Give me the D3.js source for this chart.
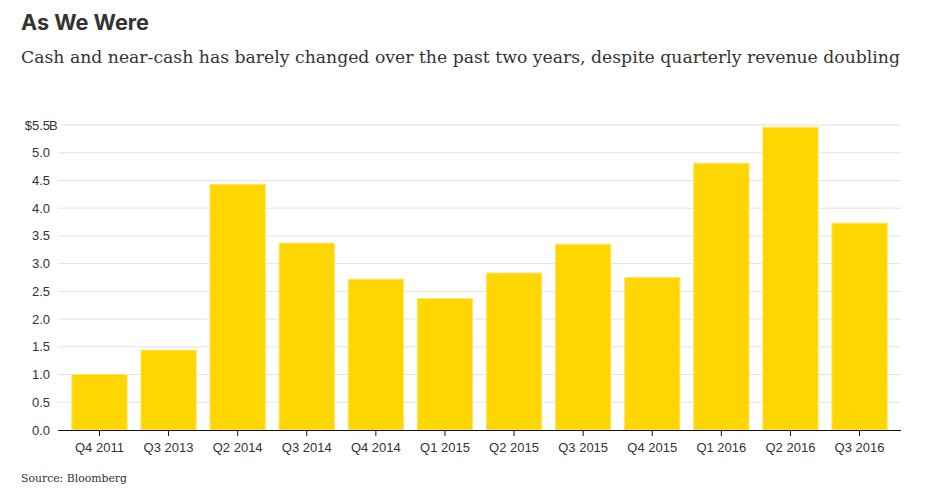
<!DOCTYPE html>
<html><head><meta charset="utf-8">
<script src="https://cdn.jsdelivr.net/npm/d3@7/dist/d3.min.js"></script>
<style>body{margin:0;background:#fff}svg{display:block}</style>
</head><body>
<svg id="c" width="935" height="492"></svg>
<script>
const categories = ["Q4 2011","Q3 2013","Q2 2014","Q3 2014","Q4 2014","Q1 2015","Q2 2015","Q3 2015","Q4 2015","Q1 2016","Q2 2016","Q3 2016"];
const cash = [1.00,1.44,4.43,3.37,2.72,2.37,2.83,3.35,2.75,4.81,5.46,3.73];
const yTicks = [0,0.5,1,1.5,2,2.5,3,3.5,4,4.5,5,5.5];
const title = "As We Were";
const subtitle = "Cash and near-cash has barely changed over the past two years, despite quarterly revenue doubling";
const source = "Source: Bloomberg";

const svg = d3.select("#c");
const x = d3.scaleBand().domain(categories).range([58, 901]).paddingInner(0.2).paddingOuter(0.2);
const y = d3.scaleLinear().domain([0, 5.5]).range([430, 125]);

function fit(sel, w){ const l = sel.node().getComputedTextLength(); sel.attr("textLength", w).attr("lengthAdjust","spacingAndGlyphs"); }

svg.append("text").attr("x",21).attr("y",30).attr("font-family","Inter, Roboto, sans-serif").attr("font-weight",700)
  .attr("font-size",21).attr("fill","#333").text(title).call(fit,128);
svg.append("text").attr("x",21).attr("y",63).attr("font-family","'DejaVu Serif', serif")
  .attr("font-size",16.5).attr("fill","#333").text(subtitle).call(fit,879);

// gridlines
const g = svg.append("g");
g.selectAll("line.grid").data(yTicks.filter(d=>d>0)).join("line").attr("class","grid")
  .attr("x1", d=> d===5.5 ? 62 : 58).attr("x2",901)
  .attr("y1", d=>y(d)).attr("y2", d=>y(d)).attr("stroke","#e2e2e8").attr("stroke-width",1);

// y labels
const yl = svg.append("g").attr("font-family","'Liberation Sans', Arial, sans-serif").attr("font-size",13).attr("fill","#333");
yTicks.forEach(d=>{
  const t = yl.append("text").attr("x",50).attr("y",y(d)).attr("dy","0.35em").attr("text-anchor","end")
    .text(d===5.5 ? "$" + d.toFixed(1) : d.toFixed(1));
  if(d===5.5) yl.append("text").attr("x",49).attr("y",y(d)).attr("dy","0.35em").text("B");
});

// bars
svg.append("g").selectAll("rect").data(categories).join("rect")
  .attr("x", d=>x(d)).attr("width", x.bandwidth())
  .attr("y", (d,i)=>y(cash[i])).attr("height",(d,i)=>y(0)-y(cash[i]))
  .attr("fill","#ffd600").attr("stroke","#ffe566").attr("stroke-width",1);

// x axis
const xa = svg.append("g").attr("transform","translate(0,430)")
  .call(d3.axisBottom(x).tickSizeOuter(0).tickSize(6).tickPadding(7));
xa.select(".domain").attr("stroke","#111").attr("d","M58,0.5H901");
xa.selectAll(".tick line").attr("stroke","#111");
xa.selectAll("text").attr("font-family","'Liberation Sans', Arial, sans-serif").attr("font-size",13).attr("fill","#333");

svg.append("text").attr("x",21).attr("y",482).attr("font-family","'DejaVu Serif', serif")
  .attr("font-size",11).attr("fill","#333").text(source).call(fit,106);
</script>
</body></html>
